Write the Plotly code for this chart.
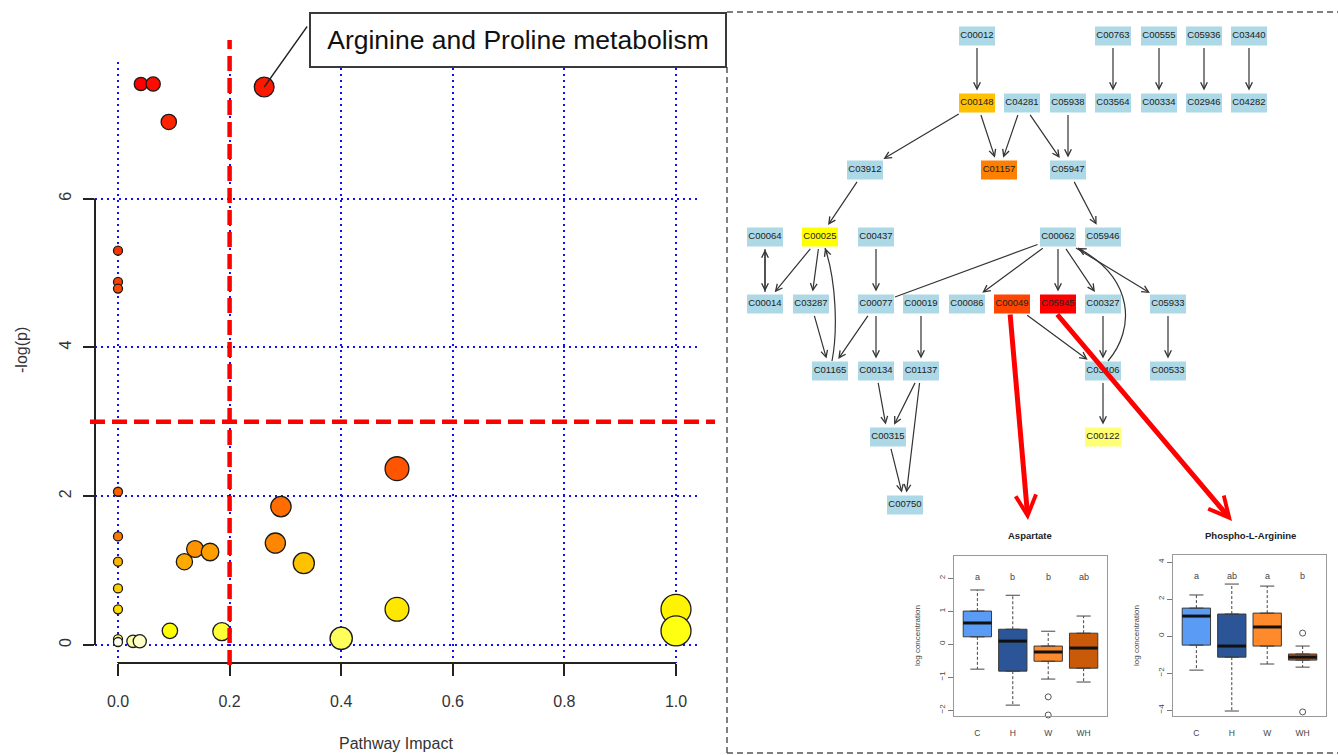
import math
import colorsys
import plotly.graph_objects as go

FIG_W, FIG_H = 1338, 755
FONT = "Liberation Sans, Arial, Helvetica, sans-serif"

# ---------------- pathway analysis: impact vs -log(p) ----------------
impact = [0.041, 0.063, 0.262, 0.091, 0.0, 0.0, 0.0, 0.50, 0.0, 0.292,
          0.0, 0.282, 0.138, 0.165, 0.119, 0.0, 0.333, 0.0, 0.0, 0.50,
          1.00, 0.093, 1.00, 0.186, 0.40, 0.0, 0.027, 0.039, 0.0]
neglogp = [7.54, 7.54, 7.50, 7.03, 5.30, 4.88, 4.79, 2.37, 2.06, 1.86,
           1.46, 1.37, 1.29, 1.25, 1.12, 1.12, 1.10, 0.76, 0.48, 0.48,
           0.48, 0.19, 0.19, 0.18, 0.09, 0.08, 0.05, 0.05, 0.04]
highlight_label = "Arginine and Proline metabolism"
highlight_index = 2
neglogp_cut = 3.0
impact_cut = 0.2
x_ticks = [0.0, 0.2, 0.4, 0.6, 0.8, 1.0]
x_tick_text = ["0.0", "0.2", "0.4", "0.6", "0.8", "1.0"]
y_ticks = [0, 2, 4, 6]

# ---------------- KEGG map: Arginine and Proline metabolism ----------------
compounds = ["C00012", "C00763", "C00555", "C05936", "C03440",
             "C00148", "C04281", "C05938", "C03564", "C00334", "C02946", "C04282",
             "C03912", "C01157", "C05947",
             "C00064", "C00025", "C00437", "C00062", "C05946",
             "C00014", "C03287", "C00077", "C00019", "C00086", "C00049",
             "C05945", "C00327", "C05933",
             "C01165", "C00134", "C01137", "C03406", "C00533",
             "C00315", "C00122", "C00750"]
compound_fill = {"C00148": "#FFC000", "C01157": "#FF7F00", "C00025": "#FFFF00",
                 "C00049": "#FF4500", "C05945": "#FF0000", "C00122": "#FFFF73"}
reactions = [("C00012", "C00148"), ("C00148", "C03912"), ("C00148", "C01157"),
             ("C04281", "C01157"), ("C04281", "C05947"), ("C05938", "C05947"),
             ("C05947", "C05946"), ("C03912", "C00025"),
             ("C00763", "C03564"), ("C00555", "C00334"), ("C05936", "C02946"),
             ("C03440", "C04282"),
             ("C00064", "C00014"), ("C00014", "C00064"),
             ("C00025", "C00014"), ("C00025", "C03287"), ("C00437", "C00077"),
             ("C00062", "C00086"), ("C00062", "C05945"), ("C00062", "C00327"),
             ("C00062", "C05933"),
             ("C03287", "C01165"), ("C00077", "C01165"), ("C00077", "C00134"),
             ("C00019", "C01137"), ("C00134", "C00315"), ("C01137", "C00315"),
             ("C00315", "C00750"), ("C01137", "C00750"),
             ("C00049", "C03406"), ("C00327", "C03406"), ("C05933", "C00533"),
             ("C03406", "C00122")]
undirected_links = [("C00062", "C00077")]
curved_reactions = [("C01165", "C00025"), ("C03406", "C00062")]
boxplot_links = [("C00049", "Aspartate"), ("C05945", "Phospho-L-Arginine")]

# ---------------- box plot summaries (log concentration) ----------------
groups = ["C", "H", "W", "WH"]
group_colors = ["#5A9BF6", "#2B5596", "#FF8A2B", "#C85A0A"]

asp_q1 = [0.22, -0.82, -0.52, -0.73]
asp_median = [0.64, 0.09, -0.24, -0.12]
asp_q3 = [1.00, 0.45, -0.06, 0.33]
asp_low = [-0.76, -1.85, -1.06, -1.15]
asp_high = [1.64, 1.48, 0.39, 0.85]
asp_outliers = {"W": [-1.60, -2.15]}
asp_letters = ["a", "b", "b", "ab"]

pla_q1 = [-0.49, -1.14, -0.54, -1.30]
pla_median = [1.08, -0.54, 0.49, -1.14]
pla_q3 = [1.51, 1.19, 1.24, -0.97]
pla_low = [-1.84, -4.05, -1.51, -1.68]
pla_high = [2.22, 2.81, 2.70, -0.54]
pla_outliers = {"WH": [0.16, -4.10]}
pla_letters = ["a", "ab", "a", "b"]


# ---------------- helpers ----------------
def fx(p):
    return p / FIG_W


def fy(p):
    return 1 - p / FIG_H


def heat_colors(n):
    """Same palette as R's heat.colors(n)."""
    j = n // 4
    i = n - j
    out = []
    for k in range(i):
        h = (1 / 6) * k / (i - 1) if i > 1 else 0
        out.append(colorsys.hsv_to_rgb(h, 1, 1))
    for k in range(j):
        s_hi, s_lo = 1 - 1 / (2 * j), 1 / (2 * j)
        s = s_hi + (s_lo - s_hi) * k / (j - 1) if j > 1 else s_hi
        out.append(colorsys.hsv_to_rgb(1 / 6, s, 1))
    return ["#%02X%02X%02X" % tuple(round(c * 255) for c in rgb) for rgb in out]


def label(x, y, text, size, color="#333", angle=0, xref="paper", yref="paper"):
    return dict(x=x, y=y, xref=xref, yref=yref, text=text, showarrow=False,
                textangle=angle, xanchor="center", yanchor="middle",
                font=dict(family=FONT, size=size, color=color))


fig = go.Figure()
shapes = []
annotations = []

# ---------------- left: pathway impact scatter ----------------
order = sorted(range(len(impact)), key=lambda k: -neglogp[k])
rank_colors = heat_colors(len(impact))
fig.add_trace(go.Scatter(
    x=[impact[k] for k in order],
    y=[neglogp[k] for k in order],
    mode="markers",
    marker=dict(size=[9 + 21 * math.sqrt(impact[k]) for k in order],
                color=rank_colors,
                line=dict(color="#1A1A1A", width=1.3), opacity=1),
    cliponaxis=False, showlegend=False, hoverinfo="x+y",
    xaxis="x", yaxis="y"))

# partial axis lines (R style: from first to last tick)
shapes.append(dict(type="line", xref="x domain", yref="y", x0=0, x1=0,
                   y0=y_ticks[0], y1=y_ticks[-1], line=dict(color="#222", width=2)))
shapes.append(dict(type="line", xref="x", yref="y domain", x0=x_ticks[0], x1=x_ticks[-1],
                   y0=0, y1=0, line=dict(color="#222", width=2)))
# significance thresholds
shapes.append(dict(type="line", xref="x", yref="paper", x0=impact_cut, x1=impact_cut,
                   y0=fy(665), y1=fy(40), line=dict(color="#FF0000", width=4.5, dash="15px,7px")))
shapes.append(dict(type="line", xref="paper", yref="y", x0=fx(90), x1=fx(715),
                   y0=neglogp_cut, y1=neglogp_cut,
                   line=dict(color="#FF0000", width=4.5, dash="15px,7px")))

annotations.append(dict(x=impact[highlight_index], y=neglogp[highlight_index],
                        xref="x", yref="y", ax=44, ay=-62, text="", showarrow=True,
                        arrowhead=0, arrowwidth=1.3, arrowcolor="#222"))
box_label = label(fx(518), fy(39.5), highlight_label, 26.5, color="#111")
box_label.update(bordercolor="#3A3A3A", borderwidth=2, borderpad=3,
                 bgcolor="white", width=408, height=46)
annotations.append(box_label)
annotations.append(label(fx(396), fy(743), "Pathway Impact", 16))
annotations.append(label(fx(22), fy(350), "-log(p)", 16, angle=-90))

# ---------------- right: pathway map ----------------
node_xy = {
    "C00012": (977, 36), "C00763": (1113, 36), "C00555": (1159, 36),
    "C05936": (1204, 36), "C03440": (1249, 36),
    "C00148": (977, 103), "C04281": (1022, 103), "C05938": (1068, 103),
    "C03564": (1113, 103), "C00334": (1159, 103), "C02946": (1204, 103),
    "C04282": (1249, 103),
    "C03912": (865, 170), "C01157": (999, 170), "C05947": (1068, 170),
    "C00064": (765, 237), "C00025": (820, 237), "C00437": (876, 237),
    "C00062": (1058, 237), "C05946": (1103, 237),
    "C00014": (765, 304), "C03287": (811, 304), "C00077": (876, 304),
    "C00019": (921, 304), "C00086": (967, 304), "C00049": (1012, 304),
    "C05945": (1058, 304), "C00327": (1103, 304), "C05933": (1168, 304),
    "C01165": (830, 371), "C00134": (876, 371), "C01137": (921, 371),
    "C03406": (1103, 371), "C00533": (1168, 371),
    "C00315": (888, 437), "C00122": (1103, 437), "C00750": (905, 505),
}
HW, HH = 18, 9.5


def leave_box(p, q, gap):
    dx, dy = q[0] - p[0], q[1] - p[1]
    t = min(HW / abs(dx) if dx else math.inf, HH / abs(dy) if dy else math.inf)
    t += gap / math.hypot(dx, dy)
    return p[0] + dx * t, p[1] + dy * t


for c in compounds:
    cx, cy = node_xy[c]
    shapes.append(dict(type="rect", xref="x2", yref="y2", x0=cx - HW, x1=cx + HW,
                       y0=cy - HH, y1=cy + HH, fillcolor=compound_fill.get(c, "#ADD8E6"),
                       line=dict(width=0), layer="below"))
fig.add_trace(go.Scatter(
    x=[node_xy[c][0] for c in compounds], y=[node_xy[c][1] for c in compounds],
    text=compounds, mode="text", textposition="middle center",
    textfont=dict(family=FONT, size=9.5, color="#222"),
    xaxis="x2", yaxis="y2", showlegend=False, hoverinfo="text"))

edge_style = dict(xref="x2", yref="y2", axref="x2", ayref="y2", text="", showarrow=True,
                  arrowcolor="#333", arrowwidth=1.2)
for s, t in reactions:
    tail = leave_box(node_xy[s], node_xy[t], 1)
    head = leave_box(node_xy[t], node_xy[s], 3)
    annotations.append(dict(x=head[0], y=head[1], ax=tail[0], ay=tail[1],
                            arrowhead=5, arrowsize=1.1, **edge_style))
for s, t in undirected_links:
    tail = leave_box(node_xy[s], node_xy[t], 1)
    head = leave_box(node_xy[t], node_xy[s], 1)
    annotations.append(dict(x=head[0], y=head[1], ax=tail[0], ay=tail[1],
                            arrowhead=0, **edge_style))

# curved reactions: cubic bezier, bulging to the right
bulges = {("C01165", "C00025"): ((6, -31), (4, -81)),
          ("C03406", "C00062"): ((27, -32), (27, -82))}
starts = {("C01165", "C00025"): (2, 0), ("C03406", "C00062"): (5, 0)}
ends = {("C01165", "C00025"): (5, 0), ("C03406", "C00062"): (20, 0)}
for s, t in curved_reactions:
    sx, sy = node_xy[s]
    tx, ty = node_xy[t]
    p0 = (sx + starts[(s, t)][0], sy - HH - 0.5)
    p3 = (tx + ends[(s, t)][0], ty + HH + 1.5)
    (a1, b1), (a2, b2) = bulges[(s, t)]
    c1 = (p0[0] + a1, p0[1] + b1)
    c2 = (p0[0] + a2, p0[1] + b2)
    shapes.append(dict(type="path", xref="x2", yref="y2",
                       path=f"M {p0[0]},{p0[1]} C {c1[0]},{c1[1]} {c2[0]},{c2[1]} {p3[0]},{p3[1]}",
                       line=dict(color="#333", width=1.2)))
    dx, dy = p3[0] - c2[0], p3[1] - c2[1]
    L = math.hypot(dx, dy)
    annotations.append(dict(x=p3[0], y=p3[1], ax=p3[0] - 8 * dx / L, ay=p3[1] - 8 * dy / L,
                            arrowhead=5, arrowsize=1.1, **edge_style))

# red pointers from highlighted compounds to their box plots
pointer_heads = {"Aspartate": (1028, 520), "Phospho-L-Arginine": (1232, 521)}
for c, target in boxplot_links:
    cx, cy = node_xy[c]
    hx, hy = pointer_heads[target]
    annotations.append(dict(x=hx, y=hy, ax=cx - 2, ay=cy + 9, xref="x2", yref="y2",
                            axref="x2", ayref="y2", text="", showarrow=True,
                            arrowcolor="#FF0000", arrowwidth=5, arrowhead=5, arrowsize=0.8))

# dashed frame of the map panel
frame = dict(color="#555", width=1.5, dash="6px,4px")
shapes.append(dict(type="line", xref="paper", yref="paper", x0=fx(727), x1=fx(727),
                   y0=fy(67), y1=fy(755), line=frame))
shapes.append(dict(type="line", xref="paper", yref="paper", x0=fx(727), x1=1,
                   y0=fy(12), y1=fy(12), line=frame))
shapes.append(dict(type="line", xref="paper", yref="paper", x0=fx(727), x1=1,
                   y0=fy(753), y1=fy(753), line=frame))

# ---------------- box plots ----------------
positions = [1, 2, 3, 4]


def add_boxplot(xa, ya, q1, med, q3, low, high, outliers):
    for i, g in enumerate(groups):
        fig.add_trace(go.Box(x=[positions[i]], q1=[q1[i]], median=[med[i]], q3=[q3[i]],
                             lowerfence=[q1[i]], upperfence=[q3[i]], width=0.8,
                             fillcolor=group_colors[i], line=dict(color="#3A3A3A", width=1),
                             boxpoints=False, xaxis=xa, yaxis=ya, showlegend=False,
                             hoverinfo="skip"))
    wx, wy, cx_, cy_, mx, my = [], [], [], [], [], []
    for i in range(len(groups)):
        p = positions[i]
        wx += [p, p, None, p, p, None]
        wy += [q3[i], high[i], None, q1[i], low[i], None]
        for v in (high[i], low[i]):
            cx_ += [p - 0.2, p + 0.2, None]
            cy_ += [v, v, None]
        mx += [p - 0.4, p + 0.4, None]
        my += [med[i], med[i], None]
    fig.add_trace(go.Scatter(x=wx, y=wy, mode="lines", line=dict(color="#444", width=1, dash="3px,2px"),
                             xaxis=xa, yaxis=ya, showlegend=False, hoverinfo="skip"))
    fig.add_trace(go.Scatter(x=cx_, y=cy_, mode="lines", line=dict(color="#444", width=1),
                             xaxis=xa, yaxis=ya, showlegend=False, hoverinfo="skip"))
    fig.add_trace(go.Scatter(x=mx, y=my, mode="lines", line=dict(color="#111", width=3),
                             xaxis=xa, yaxis=ya, showlegend=False, hoverinfo="skip"))
    ox, oy = [], []
    for g, vals in outliers.items():
        ox += [positions[groups.index(g)]] * len(vals)
        oy += vals
    fig.add_trace(go.Scatter(x=ox, y=oy, mode="markers",
                             marker=dict(symbol="circle-open", size=6, color="#555", line=dict(width=1)),
                             cliponaxis=False, xaxis=xa, yaxis=ya, showlegend=False, hoverinfo="skip"))


add_boxplot("x3", "y3", asp_q1, asp_median, asp_q3, asp_low, asp_high, asp_outliers)
add_boxplot("x4", "y4", pla_q1, pla_median, pla_q3, pla_low, pla_high, pla_outliers)

for xa, ya, letters, title, xc, ylab_x in (("x3", "y3", asp_letters, "Aspartate", 1030, 917),
                                           ("x4", "y4", pla_letters, "Phospho-L-Arginine", 1250, 1136)):
    for i, L in enumerate(letters):
        annotations.append(label(positions[i], 0.868, L, 9, color="#444",
                                 xref=xa, yref=ya + " domain"))
    annotations.append(label(fx(xc), fy(535), "<b>" + title + "</b>", 9.5, color="#222"))
    annotations.append(label(fx(ylab_x), fy(636), "log concentration", 8, color="#444", angle=-90))

box_x = dict(range=[0.34, 4.66], tickvals=positions, ticktext=groups, ticks="",
             showline=True, mirror=True, linecolor="#999", linewidth=1, showgrid=False,
             zeroline=False, tickfont=dict(family=FONT, size=8.5, color="#444"),
             ticklabelstandoff=9, fixedrange=True)
box_y = dict(ticks="outside", ticklen=5, tickcolor="#777", showline=True, mirror=True,
             linecolor="#999", linewidth=1, showgrid=False, zeroline=False, tickangle=-90,
             tickfont=dict(family=FONT, size=8, color="#444"), fixedrange=True)

fig.update_layout(
    width=FIG_W, height=FIG_H, margin=dict(l=0, r=0, t=0, b=0),
    paper_bgcolor="white", plot_bgcolor="white", showlegend=False,
    font=dict(family=FONT), boxmode="overlay",
    xaxis=dict(domain=[fx(95), fx(698)], range=[(95 - 118) / 558, (698 - 118) / 558],
               tickvals=x_ticks, ticktext=x_tick_text, ticks="outside", ticklen=12,
               tickwidth=2, tickcolor="#222", showline=False, zeroline=False,
               showgrid=True, gridcolor="#1010FF", gridwidth=2, griddash="2px,4px",
               tickfont=dict(family=FONT, size=16, color="#333"), ticklabelstandoff=12),
    yaxis=dict(domain=[fy(663), fy(62)], range=[(645 - 663) / 74.4, (645 - 62) / 74.4],
               tickvals=y_ticks, ticks="outside", ticklen=11, tickwidth=2, tickcolor="#222",
               showline=False, zeroline=False, showgrid=True, gridcolor="#1010FF",
               gridwidth=2, griddash="2px,4px", tickangle=-90,
               tickfont=dict(family=FONT, size=16, color="#333"), ticklabelstandoff=6),
    xaxis2=dict(domain=[fx(727), 1], range=[727, 1338], visible=False, fixedrange=True),
    yaxis2=dict(domain=[0, 1], range=[755, 0], visible=False, fixedrange=True),
    xaxis3=dict(domain=[fx(954), fx(1107)], anchor="y3", **box_x),
    yaxis3=dict(domain=[fy(716), fy(556)], anchor="x3", range=[-2.18, 2.67],
                tickvals=[-2, -1, 0, 1, 2], **box_y),
    xaxis4=dict(domain=[fx(1173), fx(1326)], anchor="y4", **box_x),
    yaxis4=dict(domain=[fy(716), fy(555)], anchor="x4", range=[-4.32, 4.38],
                tickvals=[-4, -2, 0, 2, 4], **box_y),
    shapes=shapes, annotations=annotations,
)

fig.write_html("out.html")
